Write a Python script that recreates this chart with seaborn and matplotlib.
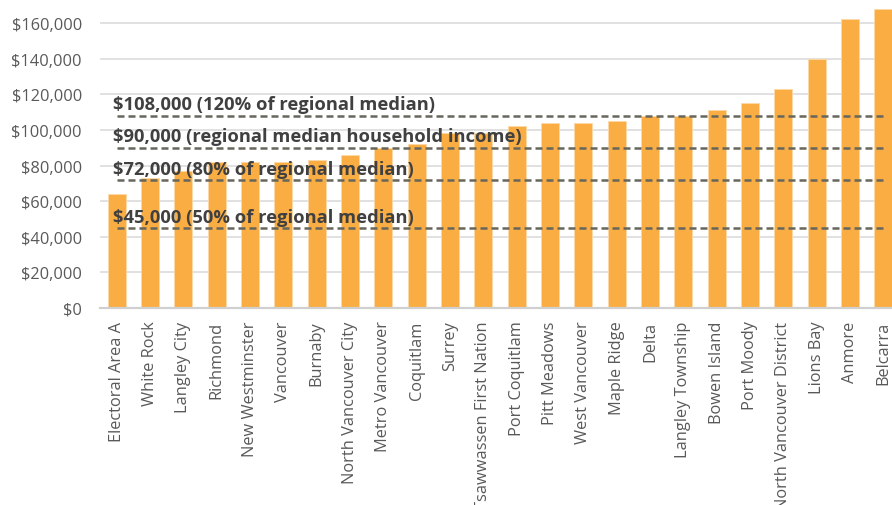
"""Median household income by municipality, Metro Vancouver, with regional median reference lines."""

import matplotlib

matplotlib.use("Agg")
import matplotlib.pyplot as plt  # noqa: E402
import pandas as pd  # noqa: E402
import seaborn as sns  # noqa: E402
from matplotlib.ticker import FuncFormatter  # noqa: E402

municipalities = [
    "Electoral Area A", "White Rock", "Langley City", "Richmond",
    "New Westminster", "Vancouver", "Burnaby", "North Vancouver City",
    "Metro Vancouver", "Coquitlam", "Surrey", "Tsawwassen First Nation",
    "Port Coquitlam", "Pitt Meadows", "West Vancouver", "Maple Ridge",
    "Delta", "Langley Township", "Bowen Island", "Port Moody",
    "North Vancouver District", "Lions Bay", "Anmore", "Belcarra",
]
median_income = [
    64000, 73000, 77000, 82000,
    82000, 82000, 83000, 86000,
    90000, 92000, 98000, 98000,
    102000, 104000, 104000, 105000,
    108000, 108000, 111000, 115000,
    123000, 140000, 162000, 168000,
]
ref_values = [108000, 90000, 72000, 45000]
ref_labels = [
    "$108,000 (120% of regional median)",
    "$90,000 (regional median household income)",
    "$72,000 (80% of regional median)",
    "$45,000 (50% of regional median)",
]

BAR = "#F9AD42"
GRID = "#D9D9D9"
TICK = "#595959"
REF = "#66665C"
LABEL = "#404040"

sns.set_style("white")
plt.rcParams["font.family"] = ["Open Sans", "DejaVu Sans"]

df = pd.DataFrame({"municipality": municipalities, "income": median_income})

fig = plt.figure(figsize=(8.92, 5.06), dpi=100)
# axes deliberately run past the top/right edge, like the cropped original
ax = fig.add_axes([100 / 892, 1 - 309 / 506, 800 / 892, 320.6 / 506])

sns.barplot(data=df, x="municipality", y="income", color=BAR, width=0.54,
            edgecolor="#FCD9A6", linewidth=0.6, saturation=1, ax=ax, zorder=2)

ax.set_ylim(0, 180000)
ax.set_xlim(-0.5, len(municipalities) - 0.5)
ax.set_yticks(range(0, 160001, 20000))
ax.yaxis.set_major_formatter(FuncFormatter(lambda v, _: f"${v:,.0f}"))
ax.grid(axis="y", color=GRID, linewidth=1.1, zorder=0)
ax.set_axisbelow(True)

for side in ["top", "right", "left"]:
    ax.spines[side].set_visible(False)
ax.spines["bottom"].set_color("#D0D0D0")
ax.spines["bottom"].set_linewidth(1.6)

ax.tick_params(axis="y", length=0, pad=13, labelsize=11.8, labelcolor=TICK)
ax.tick_params(axis="x", length=0, pad=9, labelsize=11.8, labelcolor=TICK,
               labelrotation=90)
ax.set_xlabel("")
ax.set_ylabel("")

# reference lines span first to last category centre
for val, text in zip(ref_values, ref_labels):
    ax.plot([0, len(municipalities) - 1], [val, val], color=REF,
            linewidth=1.8, dashes=(2.8, 1.6), zorder=3)
    ax.annotate(text, xy=(-0.1, val), xytext=(0, 4.5), textcoords="offset points",
                ha="left", va="baseline", fontsize=13.2, fontweight="bold",
                color=LABEL, zorder=4)

fig.savefig("out.png", dpi=100)
plt.close(fig)
